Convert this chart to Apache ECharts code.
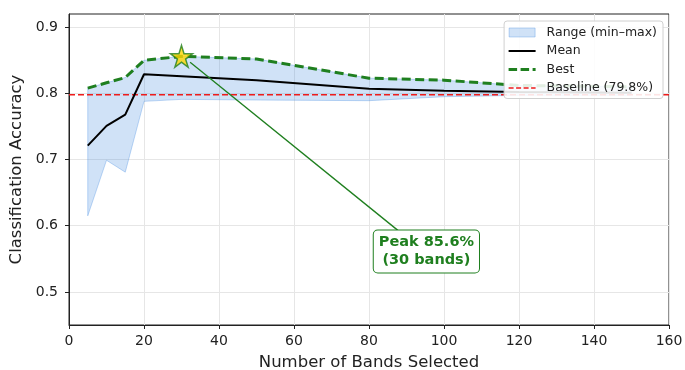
<!DOCTYPE html>
<html>
<head>
<meta charset="utf-8">
<script src="https://cdn.jsdelivr.net/npm/echarts@6/dist/echarts.min.js"></script>
<style>
  html, body { margin: 0; padding: 0; background: #fff; }
  #chart { width: 685px; height: 370px; }
</style>
</head>
<body>
<div id="chart"></div>
<script>
// band counts tested and accuracy stats
const bands = [5, 10, 15, 20, 30, 50, 80, 100, 120, 150];
const bestAcc = [0.808, 0.816, 0.824, 0.850, 0.856, 0.852, 0.823, 0.820, 0.812, 0.810];
const meanAcc = [0.721, 0.751, 0.768, 0.829, 0.826, 0.820, 0.807, 0.804, 0.802, 0.801];
const minAcc = [0.615, 0.699, 0.681, 0.788, 0.791, 0.790, 0.789, 0.795, 0.797, 0.797];
const baseline = 0.798;
const yTicks = [0.5, 0.6, 0.7, 0.8, 0.9];

// annotation placement (data coords)
const peakText = ['Peak 85.6%', '(30 bands)'];
const annoTextAt = [95.3, 0.561];
const arrowFrom = [87.7, 0.593];
const arrowTo = [32.3, 0.847];

const font = 'DejaVu Sans';
const green = '#1f7f1f';
const red = '#ee1c1c';
const bandFill = 'rgba(74,144,226,0.26)';
const bandEdge = 'rgba(74,144,226,0.35)';

const peakIdx = bestAcc.indexOf(Math.max(...bestAcc));
const pairs = arr => bands.map((b, i) => [b, arr[i]]);

const starPath = 'path://M50,0 L61,35 L98,35 L68,57 L79,91 L50,70 L21,91 L32,57 L2,35 L39,35 Z';
// legend icons are 33x10 boxes, drawn in the left 27px; bare moves hold the box size
const iconRect = 'path://M0,0 M33,10 M0.5,0.5h26v9h-26z';
const iconSolid = 'path://M0,0 M33,10 M0,4h27v2h-27z';
const iconDashBold = 'path://M0,0 M33,10 M0,3.5h8.5v3h-8.5z M12,3.5h8.5v3h-8.5z M24,3.5h3v3h-3z';
const iconDashThin = 'path://M0,0 M33,10 M0,4.2h5v1.6h-5z M7.5,4.2h5v1.6h-5z M15,4.2h5v1.6h-5z M22.5,4.2h4.5v1.6h-4.5z';

const chart = echarts.init(document.getElementById('chart'), null, { renderer: 'canvas' });

const option = {
  animation: false,
  textStyle: { fontFamily: font },
  grid: {
    left: 69, right: 16, top: 14, bottom: 45,
    outerBoundsMode: 'none',
    containLabel: false,
    show: true, borderColor: '#222', borderWidth: 1, backgroundColor: 'transparent'
  },
  legend: {
    orient: 'vertical',
    right: 22,
    top: 21,
    padding: [5, 6, 4, 4],
    itemWidth: 33,
    itemHeight: 10,
    itemGap: 5.5,
    backgroundColor: 'rgba(255,255,255,0.88)',
    borderColor: '#d0d0d0',
    borderWidth: 1,
    borderRadius: 3,
    textStyle: { fontFamily: font, fontSize: 12.5, color: '#222' },
    data: [
      { name: 'Range (min–max)', icon: iconRect, itemStyle: { color: bandFill, borderColor: bandEdge, borderWidth: 1 } },
      { name: 'Mean', icon: iconSolid, itemStyle: { color: '#000' } },
      { name: 'Best', icon: iconDashBold, itemStyle: { color: green } },
      { name: 'Baseline (79.8%)', icon: iconDashThin, itemStyle: { color: red } }
    ]
  },
  xAxis: {
    type: 'value',
    min: 0,
    max: 160,
    interval: 20,
    name: 'Number of Bands Selected',
    nameLocation: 'middle',
    nameGap: 29,
    nameTextStyle: { fontSize: 16.5, color: '#222', fontFamily: font },
    axisLine: { show: true, onZero: false, lineStyle: { color: '#222', width: 1 } },
    axisTick: { show: true, inside: false, length: 4, lineStyle: { color: '#222' } },
    axisLabel: { fontSize: 14, color: '#222', margin: 9, fontFamily: font },
    splitLine: { show: true, lineStyle: { color: '#e6e6e6', width: 1 } }
  },
  yAxis: {
    type: 'value',
    min: 0.45,
    max: 0.92,
    splitNumber: 5,
    name: 'Classification Accuracy',
    nameLocation: 'middle',
    nameGap: 41,
    nameTextStyle: { fontSize: 16.5, color: '#222', fontFamily: font },
    axisLine: { show: true, onZero: false, lineStyle: { color: '#222', width: 1 } },
    axisTick: { show: true, length: 4, customValues: yTicks, lineStyle: { color: '#222' } },
    axisLabel: {
      fontSize: 14, color: '#222', margin: 11, fontFamily: font,
      customValues: yTicks,
      formatter: v => v.toFixed(1)
    },
    splitLine: { show: true, lineStyle: { color: '#e6e6e6', width: 1 } }
  },
  series: [
    {
      name: 'Range (min–max)',
      type: 'custom',
      data: bands.map((b, i) => [b, minAcc[i], bestAcc[i]]),
      encode: { x: 0, y: [1, 2] },
      itemStyle: { color: bandFill },
      silent: true,
      z: 1,
      renderItem: (params, api) => {
        if (params.dataIndex !== 0) return;
        const upper = bands.map((b, i) => api.coord([b, bestAcc[i]]));
        const lower = bands.map((b, i) => api.coord([b, minAcc[i]])).reverse();
        return {
          type: 'polygon',
          shape: { points: upper.concat(lower) },
          style: { fill: bandFill, stroke: bandEdge, lineWidth: 1 }
        };
      }
    },
    {
      name: 'Baseline (79.8%)',
      type: 'line',
      data: [[0, baseline], [160, baseline]],
      symbol: 'none',
      itemStyle: { color: red },
      lineStyle: { color: red, width: 1.5, type: [6, 3] },
      z: 2
    },
    {
      name: 'Mean',
      type: 'line',
      data: pairs(meanAcc),
      symbol: 'none',
      itemStyle: { color: '#000' },
      lineStyle: { color: '#000', width: 2 },
      z: 3
    },
    {
      name: 'Best',
      type: 'line',
      data: pairs(bestAcc),
      symbol: 'none',
      itemStyle: { color: green },
      lineStyle: { color: green, width: 3, type: [9, 4.5] },
      z: 3
    },
    {
      name: 'peak',
      type: 'scatter',
      data: [[bands[peakIdx], bestAcc[peakIdx]]],
      symbol: starPath,
      symbolSize: 22,
      itemStyle: { color: '#ffd700', borderColor: green, borderWidth: 1.5 },
      z: 5,
      markLine: {
        silent: true,
        symbol: ['none', 'arrow'],
        symbolSize: [0, 9],
        label: { show: false },
        lineStyle: { color: green, width: 1.3, type: 'solid' },
        data: [[{ coord: arrowFrom }, { coord: arrowTo }]]
      },
      markPoint: {
        silent: true,
        symbol: 'rect',
        symbolSize: 0,
        data: [{ coord: annoTextAt }],
        label: {
          show: true,
          position: 'inside',
          formatter: peakText.join('\n'),
          fontFamily: font,
          fontSize: 14.5,
          fontWeight: 'bold',
          color: green,
          lineHeight: 18,
          align: 'center',
          backgroundColor: '#fff',
          borderColor: green,
          borderWidth: 1,
          borderRadius: 4,
          padding: [3, 5, 3, 5]
        }
      }
    }
  ]
};

chart.setOption(option);
</script>
</body>
</html>
